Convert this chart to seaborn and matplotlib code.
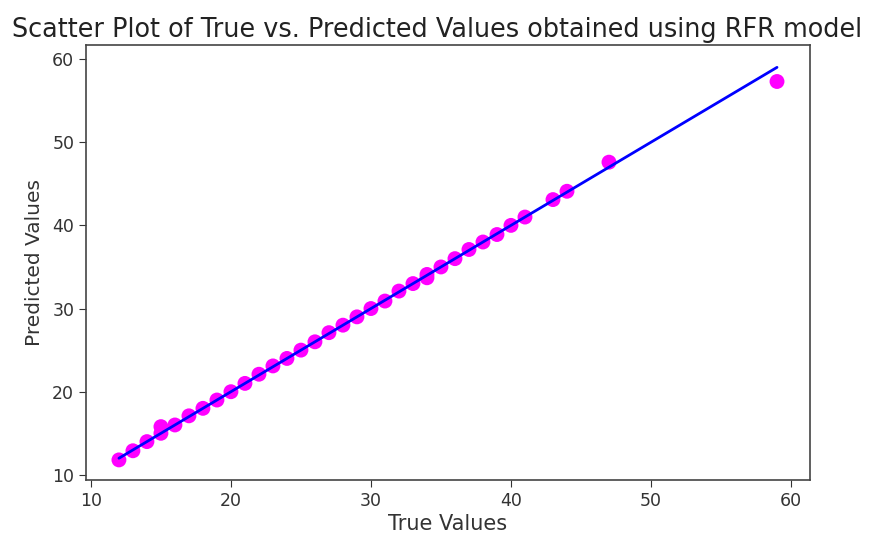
import numpy as np
import pandas as pd
import seaborn as sns
import matplotlib
matplotlib.use('Agg')
import matplotlib.pyplot as plt

# true vs predicted values
true_vals = [12, 13, 14, 15, 15, 16, 17, 18, 19, 20, 21, 22, 23, 24, 25, 26, 27, 28, 29, 30,
             31, 32, 33, 34, 34, 35, 36, 37, 38, 39, 40, 41, 43, 44, 47, 59]
pred_vals = [11.8, 12.9, 14.0, 15.0, 15.8, 16.0, 17.1, 18.0, 19.0, 20.0, 21.0, 22.1, 23.1, 24.0,
             25.0, 26.0, 27.1, 28.0, 29.0, 30.0, 30.9, 32.1, 33.0, 33.7, 34.1, 35.0, 36.0, 37.1,
             38.0, 38.9, 40.0, 41.0, 43.1, 44.1, 47.6, 57.3]

df = pd.DataFrame({'true': true_vals, 'pred': pred_vals})
ref = pd.DataFrame({'x': [min(true_vals), max(true_vals)]})
ref['y'] = ref['x']

sns.set_style('ticks')
plt.rcParams['font.family'] = ['DejaVu Sans']

fig = plt.figure(figsize=(8.69, 5.41), dpi=100)
ax = fig.add_axes([0.099, 0.113, 0.833, 0.804])

sns.scatterplot(data=df, x='true', y='pred', color='magenta', s=115, edgecolor='none', ax=ax)
sns.lineplot(data=ref, x='x', y='y', color='blue', linewidth=2, ax=ax)

ax.set_xlim(9.65, 61.35)
ax.set_ylim(9.4, 61.7)
ax.set_xticks([10, 20, 30, 40, 50, 60])
ax.set_yticks([10, 20, 30, 40, 50, 60])
ax.tick_params(labelsize=12.5, colors='#333333', length=5)
for sp in ax.spines.values():
    sp.set_color('#444444')
    sp.set_linewidth(1.2)
ax.set_xlabel('True Values', fontsize=15, color='#333333', labelpad=3)
ax.set_ylabel('Predicted Values', fontsize=14.5, color='#333333', labelpad=6)
ax.set_title('Scatter Plot of True vs. Predicted Values obtained using RFR model',
             fontsize=18.4, color='#222222', pad=6, x=0.485)

fig.savefig('out.png', dpi=100)
